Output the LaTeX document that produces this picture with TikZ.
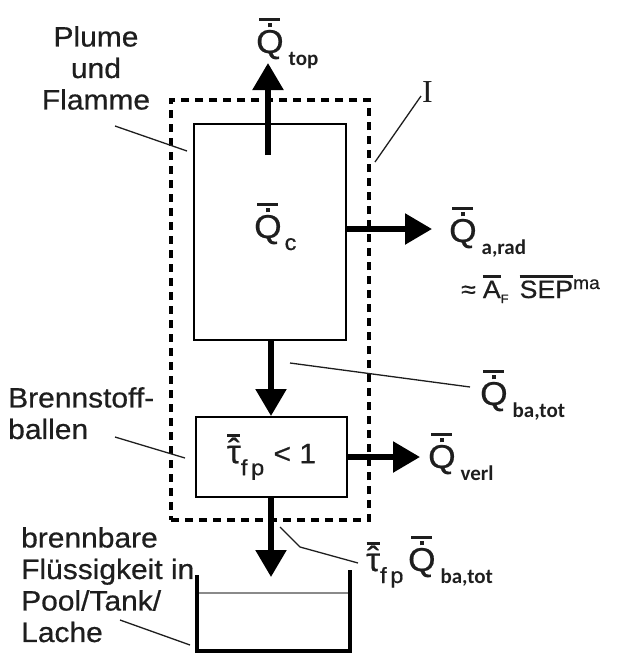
\documentclass[tikz,border=0pt]{standalone}
\usepackage{fontspec}
\setmainfont[FakeStretch=1.07, FakeBold=0.6]{Liberation Sans}
\newfontfamily\calfont{Carlito}
\newfontfamily\serffont{Liberation Serif}
\usetikzlibrary{arrows.meta, positioning}

\definecolor{ink}{HTML}{1E1E1E}
\definecolor{liquidgray}{HTML}{8A8A8A}

% letters with dot and bar
\newcommand\qfont{\fontsize{33}{33}\selectfont}
\newcommand\Qd{\leavevmode\vbox{\offinterlineskip\ialign{\hfil##\hfil\cr
  \vrule width 21pt height 2.8pt\cr\noalign{\kern2.5pt}
  \vrule width 4pt height 4pt\cr\noalign{\kern2.5pt}
  {\qfont Q}\cr}}}
\newcommand\taub{\leavevmode\vbox{\offinterlineskip\ialign{\hfil##\hfil\cr
  \vrule width 13pt height 2.5pt\cr\noalign{\kern2pt}
  \raisebox{-18pt}[5pt][0pt]{\qfont ˆ}\cr\noalign{\kern2pt}
  {\qfont τ}\cr}}}
\newsavebox\ovlbox
\newcommand\ovl[1]{\sbox\ovlbox{#1}\leavevmode\vbox{\offinterlineskip\hrule width\wd\ovlbox height 2.5pt\kern3pt\box\ovlbox}}
\newcommand\csub[1]{\kern5pt\raisebox{-12pt}{\calfont\bfseries\fontsize{21}{21}\selectfont#1}}
\newcommand\lsub[1]{\raisebox{-12pt}{\fontsize{22}{22}\selectfont#1}}

\begin{document}
\begin{tikzpicture}[x=1pt, y=-1pt, every node/.style={inner sep=0pt, text=ink, font=\fontsize{28}{31.5}\selectfont},
  box/.style={draw, line width=2pt},
  sysbox/.style={draw, line width=3.5pt, dash pattern=on 8pt off 6pt},
  flow/.style={line width=5.5pt, -{Triangle[length=27pt, width=30pt]}},
  lead/.style={line width=1.3pt, draw=ink}]
  \useasboundingbox (0,0) rectangle (617,654);

  % system boundary I and the two blocks
  \node (sys) [sysbox, minimum width=198pt, minimum height=420pt] at (270,310) {};
  \node (flame) [box, fill=white, minimum width=152pt, minimum height=216pt] at (270,232) {};
  \node (bale) [box, fill=white, minimum width=151pt, minimum height=80pt] at (271.5,457) {\taub\lsub{f\,p}\,\,< 1};

  % pool / tank
  \coordinate (tank nw) at (197,575);
  \coordinate (tank se) at (350,651);
  \coordinate (tank ne) at (350,570);
  \coordinate (liq w) at (197,593);
  \coordinate (liq e) at (350,593);
  \draw [liquidgray, line width=1.5pt] (liq w) -- (liq e);
  \draw [line width=3.5pt] (tank nw) |- (tank se) -- (tank ne);

  % flux labels
  \node (qtop) [anchor=base west] at (256,53) {\Qd\csub{top}};
  \node (qc) [anchor=base west] at (254,238) {\Qd\kern3pt\lsub{c}};
  \node (qrad) [anchor=base west] at (449,242) {\Qd\csub{a,rad}};
  \node (approx) [anchor=base west, font=\fontsize{25}{25}\selectfont] at (461,298)
    {≈\kern7pt\ovl{A}\raisebox{-5pt}{\fontsize{12}{12}\selectfont F}\kern11pt\ovl{SEP}\raisebox{9pt}{\fontsize{18}{18}\selectfont ma}};
  \node (qbatot) [anchor=base west] at (480,405) {\Qd\csub{ba,tot}};
  \node (qverl) [anchor=base west] at (428,468) {\Qd\csub{verl}};
  \node (qout) [anchor=base west] at (366,571) {\taub\lsub{f\,p}\,\Qd\csub{ba,tot}};
  \node (isys) [anchor=base west, font=\serffont\fontsize{32}{32}\selectfont] at (422,102) {I};

  % component names
  \node (plume) [align=center, anchor=north] at (96,26) {Plume\\und\\Flamme};
  \node (brenn) [align=left, anchor=north west] at (8,387) {Brennstoff-\\ballen};
  \node (pool) [align=left, anchor=north west] at (21,527) {brennbare\\Flüssigkeit in\\Pool/Tank/\\Lache};

  % heat flows
  \coordinate (top start) at (268,155);
  \coordinate (top tip) at (268,63);
  \coordinate (out tip) at (271,577);
  \draw [flow] (top start) -- (top tip);
  \draw [flow] (flame.east |- 0,229) -- (432,229) coordinate (rad tip);
  \draw [flow] (flame.south -| 271,0) -- (bale.north -| 271,0);
  \draw [flow] (bale.east) -- (420,457) coordinate (verl tip);
  \draw [flow] (bale.south -| 271,0) -- (out tip);

  % leader lines
  \coordinate (plume a) at (115,126);
  \coordinate (plume b) at (187,151);
  \coordinate (brenn a) at (115,437);
  \coordinate (brenn b) at (185,458);
  \coordinate (pool a) at (120,620);
  \coordinate (pool b) at (190,645);
  \coordinate (i a) at (375,162);
  \coordinate (i b) at (421,96);
  \coordinate (ba a) at (290,363);
  \coordinate (ba b) at (470,387);
  \coordinate (out a) at (280,527);
  \coordinate (out b) at (300,547);
  \coordinate (out c) at (358,563);
  \draw [lead] (plume a) -- (plume b);
  \draw [lead] (brenn a) -- (brenn b);
  \draw [lead] (pool a) -- (pool b);
  \draw [lead] (i a) -- (i b);
  \draw [lead] (ba a) -- (ba b);
  \draw [lead] (out a) -- (out b) -- (out c);
\end{tikzpicture}
\end{document}
